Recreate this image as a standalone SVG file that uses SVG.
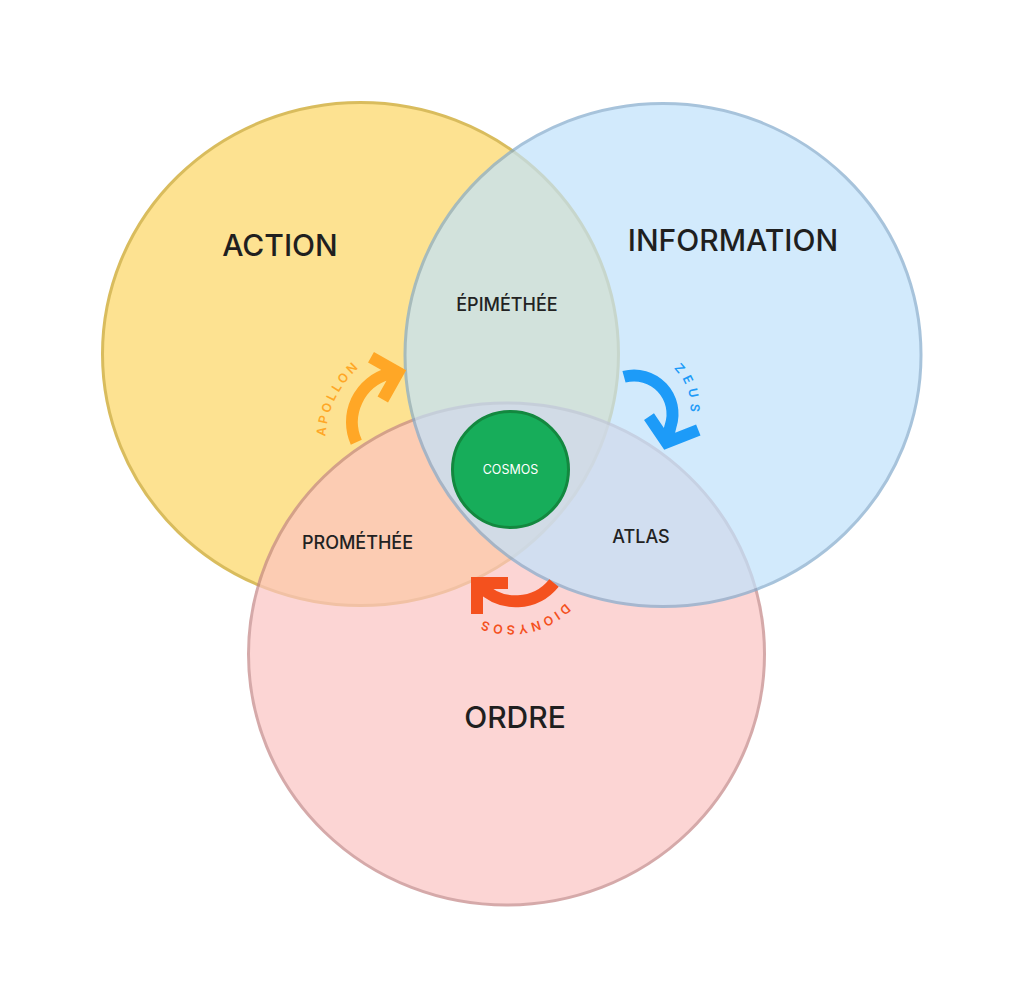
<svg xmlns="http://www.w3.org/2000/svg" width="1024" height="1008" viewBox="0 0 1024 1008">
<style>
.set{opacity:0.7;stroke-width:3}
.big{font-family:Inter,"Liberation Sans",sans-serif;font-size:30px;font-weight:500;fill:#1f1f1f;text-anchor:middle}
.mid{font-family:Inter,"Liberation Sans",sans-serif;font-size:18px;font-weight:500;fill:#222222;text-anchor:middle}
.arw{fill:none;stroke-width:12;stroke-linejoin:miter;stroke-linecap:butt}
.lbl{font-family:Inter,"Liberation Sans",sans-serif;font-size:12.5px;font-weight:600;text-anchor:middle}
</style>
<defs>
<path id="pApollon" d="M339.1,494.25 A101.5,101.5 0 0 1 409.37,343.04"/>
<path id="pZeus" d="M637.5,354 A53,53 0 0 1 683.4,433.5"/>
<path id="pDionysos" d="M584.37,573.85 A78.5,78.5 0 0 1 450.47,597.46"/>
</defs>
<rect width="1024" height="1008" fill="#ffffff"/>
<g id="action">
<ellipse class="set" cx="360.5" cy="354" rx="258" ry="251.5" fill="#fdd663" stroke="#c9a11a"/>
<text class="big" x="280" y="256">ACTION</text>
</g>
<g id="ordre">
<ellipse class="set" cx="506.5" cy="654" rx="258" ry="251" fill="#fcc4c2" stroke="#c48686"/>
<text class="big" x="515" y="728">ORDRE</text>
</g>
<g id="information">
<ellipse class="set" cx="663" cy="355" rx="258" ry="251.5" fill="#c0e2fc" stroke="#83abcd"/>
<text class="big" x="733" y="250.5">INFORMATION</text>
</g>
<g id="epimethee"><text class="mid" x="507" y="311">ÉPIMÉTHÉE</text></g>
<g id="promethee"><text class="mid" x="357.5" y="549">PROMÉTHÉE</text></g>
<g id="atlas"><text class="mid" x="641" y="543">ATLAS</text></g>
<g id="cosmos">
<circle cx="510.5" cy="469.5" r="58" fill="#17ad5a" stroke="#13883f" stroke-width="3"/>
<text x="510.5" y="474" font-family="Inter,'Liberation Sans',sans-serif" font-size="12.5" fill="#ffffff" text-anchor="middle">COSMOS</text>
</g>
<g id="connectors">
<g id="apollon">
<path class="arw" stroke="#ffa726" d="M356.3,442.3 A50,50 0 0 1 388.7,373.8 L398,372.5 M371,357.3 L398,372.5 L382.8,399.5"/>
<text class="lbl" fill="#ffa726" letter-spacing="3"><textPath href="#pApollon" startOffset="100.5">APOLLON</textPath></text>
</g>
<g id="zeus">
<path class="arw" stroke="#1d9bf8" d="M624,376.8 A38.5,38.5 0 0 1 670.5,426.3 L666.5,442.5 M649,416.7 L666.5,442.5 L698.3,430"/>
<text class="lbl" fill="#1d9bf8" letter-spacing="5"><textPath href="#pZeus" startOffset="66">ZEUS</textPath></text>
</g>
<g id="dionysos">
<path class="arw" stroke="#f4511e" d="M554,583 A49,49 0 0 1 480.85,586.65 L477,583 M508,583 L477,583 L477,614"/>
<text class="lbl" fill="#f4511e" letter-spacing="3.2"><textPath href="#pDionysos" startOffset="81">DIONYSOS</textPath></text>
</g>
</g>
</svg>
